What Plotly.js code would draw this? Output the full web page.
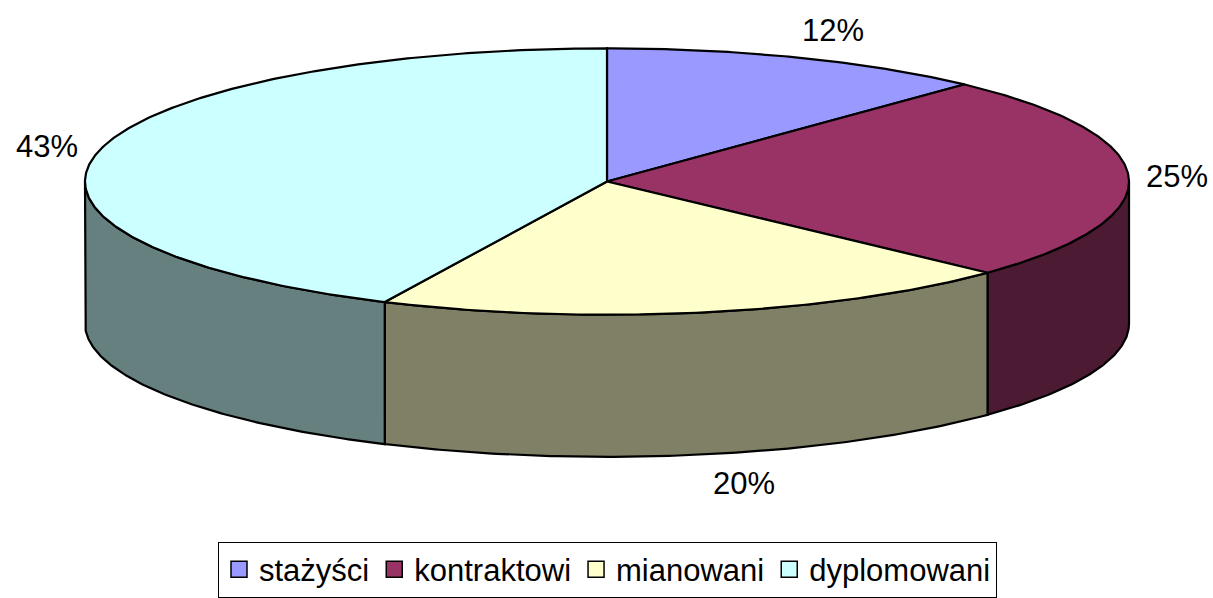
<!DOCTYPE html>
<html>
<head>
<meta charset="utf-8">
<script src="https://cdn.plot.ly/plotly-3.0.1.min.js"></script>
<style>html,body{margin:0;padding:0;background:#fff;}#chart{width:1213px;height:598px;}</style>
</head>
<body>
<div id="chart"></div>
<script>
const categories = ['stażyści', 'kontraktowi', 'mianowani', 'dyplomowani'];
const values = [12, 25, 20, 43];
const valueLabels = ['12%', '25%', '20%', '43%'];
const colors = ['#9999FF', '#993366', '#FFFFCC', '#CCFFFF'];

// geometry of the drawn 3D pie (pixel space of the plot)
const W = 1213, H = 598;
const cx = 607, cy = 184, rx = 522, ry = 135, depth = 144;

function darken(hex, f) {
  const n = parseInt(hex.slice(1), 16);
  const r = Math.round(((n >> 16) & 255) * f), g = Math.round(((n >> 8) & 255) * f), b = Math.round((n & 255) * f);
  return 'rgb(' + r + ',' + g + ',' + b + ')';
}
function pt(deg, off) {
  const t = deg * Math.PI / 180;
  return [cx + rx * Math.sin(t), cy - ry * Math.cos(t) + off];
}
function arc(a, b, off) {
  const out = [];
  const n = Math.max(2, Math.ceil(Math.abs(b - a) / 0.5));
  for (let i = 0; i <= n; i++) out.push(pt(a + (b - a) * i / n, off));
  return out;
}

const total = values.reduce((s, v) => s + v, 0);
const starts = [], ends = [];
let acc = 0;
values.forEach(v => { starts.push(acc / total * 360); acc += v; ends.push(acc / total * 360); });

const traces = [];
// side walls (front half only)
values.forEach((v, i) => {
  const lo = Math.max(starts[i], 90), hi = Math.min(ends[i], 270);
  if (lo < hi) {
    const pts = arc(lo, hi, 0).concat(arc(hi, lo, depth));
    pts.push(pts[0]);
    traces.push({
      type: 'scatter', mode: 'lines', fill: 'toself',
      x: pts.map(p => p[0]), y: pts.map(p => p[1]),
      fillcolor: darken(colors[i], 0.5),
      line: {color: '#000', width: 2.2},
      showlegend: false, hoverinfo: 'skip'
    });
  }
});
// top faces
values.forEach((v, i) => {
  const pts = [[cx, cy]].concat(arc(starts[i], ends[i], 0));
  pts.push([cx, cy]);
  traces.push({
    type: 'scatter', mode: 'lines', fill: 'toself',
    x: pts.map(p => p[0]), y: pts.map(p => p[1]),
    fillcolor: colors[i],
    line: {color: '#000', width: 2.2},
    showlegend: false, hoverinfo: 'skip'
  });
});
// legend entries
categories.forEach((c, i) => {
  traces.push({
    type: 'scatter', mode: 'markers', x: [null], y: [null], name: c,
    marker: {symbol: 'square', size: 16, color: colors[i], line: {color: '#000', width: 1.5}},
    showlegend: true, hoverinfo: 'skip'
  });
});

// percentage labels
const annotations = values.map((v, i) => {
  const mid = (starts[i] + ends[i]) / 2;
  const t = mid * Math.PI / 180;
  const s = Math.sin(t), c = Math.cos(t);
  const x = cx + (rx + 48) * s + 22 * Math.abs(c) * Math.sign(s) * (c < 0 ? 1.4 : 0.8);
  const y = cy - (ry + 30) * c + (c < -0.01 ? depth : 0);
  return {
    x: x, y: y, xref: 'x', yref: 'y', text: valueLabels[i], showarrow: false,
    font: {family: 'Liberation Sans, Arial, sans-serif', size: 31, color: '#000'},
    xanchor: 'center', yanchor: 'middle'
  };
});

const layout = {
  width: W, height: H,
  margin: {l: 0, r: 0, t: 0, b: 0},
  paper_bgcolor: '#fff', plot_bgcolor: '#fff',
  xaxis: {range: [0, W], visible: false, fixedrange: true},
  yaxis: {range: [H, 0], visible: false, fixedrange: true},
  showlegend: true,
  legend: {
    orientation: 'h', x: 218 / W, xanchor: 'left', y: 1 - 549 / H, yanchor: 'top',
    font: {family: 'Liberation Sans, Arial, sans-serif', size: 31, color: '#000'},
    bordercolor: '#000', borderwidth: 1, bgcolor: '#fff', itemwidth: 30
  },
  annotations: annotations
};

Plotly.newPlot('chart', traces, layout, {staticPlot: true, displayModeBar: false});
</script>
</body>
</html>
